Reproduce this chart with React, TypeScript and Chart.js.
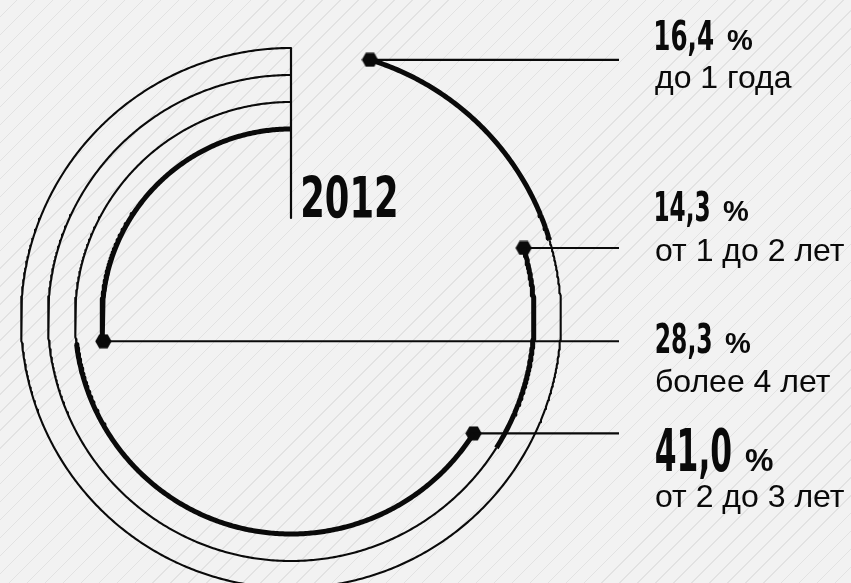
import React, { useEffect, useRef } from 'react';
import { Chart, registerables } from 'chart.js';

Chart.register(...registerables);

// ---------- DATA ----------
// Categories in the order they run around the circle (counter-clockwise from 12 o'clock)
const categories: string[] = ['более 4 лет', 'от 2 до 3 лет', 'от 1 до 2 лет', 'до 1 года'];
const shares: number[] = [28.3, 41.0, 14.3, 16.4];
const yearLabel = '2012';
// order of the label column, top to bottom (indices into categories)
const labelOrder: number[] = [3, 2, 0, 1];

// ---------- LAYOUT ----------
const W = 851;
const H = 583;
const CX = 291; // pixel position of the circle centre
const CY = 318;
const R0 = 189; // innermost ring radius (px)
const RSTEP = 27; // distance between rings
const SWEEP = 343; // degrees used by 100 %
const LINE_END_X = 619; // pixel x where connector lines stop
const STEM_BOTTOM_Y = 218; // pixel y where the vertical stem stops
const LABEL_X = 656;
const NUM_BASE = [50, 221, 353, 471];
const NUM_INK_W = [57, 53, 55, 75];
const DESC_BASE = [88, 261, 392, 507];
const PCT_GAP = 14;
const YEAR_X = 303;
const YEAR_BASE = 218;
const YEAR_INK_W = 93;

const THIN = 2.1;
const THICK = 5;
const INK = '#0a0a0a';

const NUM_FAMILY = "'DejaVu Sans Condensed', 'DejaVu Sans', sans-serif";
const TXT_FAMILY = "'Liberation Sans', Arial, sans-serif";

function arcPoints(r: number, a0: number, a1: number) {
  const pts: { x: number; y: number }[] = [];
  const n = Math.max(2, Math.ceil(Math.abs(a1 - a0) / 0.5));
  for (let i = 0; i <= n; i++) {
    const a = ((a0 + ((a1 - a0) * i) / n) * Math.PI) / 180;
    pts.push({ x: -r * Math.sin(a), y: r * Math.cos(a) });
  }
  return pts;
}

function makeHex(): HTMLCanvasElement {
  const c = document.createElement('canvas');
  c.width = 17;
  c.height = 15;
  const g = c.getContext('2d')!;
  g.fillStyle = INK;
  g.beginPath();
  g.moveTo(0.3, 7.5);
  g.lineTo(4.3, 0.6);
  g.lineTo(12.7, 0.6);
  g.lineTo(16.7, 7.5);
  g.lineTo(12.7, 14.4);
  g.lineTo(4.3, 14.4);
  g.closePath();
  g.fill();
  return c;
}

function drawFitted(ctx: CanvasRenderingContext2D, txt: string, font: string, x: number, base: number, inkW: number) {
  ctx.font = font;
  const m = ctx.measureText(txt);
  const ink = m.actualBoundingBoxLeft + m.actualBoundingBoxRight;
  const s = inkW / ink;
  ctx.save();
  ctx.translate(x, base);
  ctx.scale(s, 1);
  ctx.fillText(txt, m.actualBoundingBoxLeft, 0);
  ctx.restore();
  return x + inkW;
}

const labelPlugin = {
  id: 'labelPlugin',
  afterDraw(chart: any) {
    const ctx: CanvasRenderingContext2D = chart.ctx;
    ctx.save();
    ctx.fillStyle = INK;
    ctx.textBaseline = 'alphabetic';
    ctx.textAlign = 'left';
    drawFitted(ctx, yearLabel, `bold 57px ${NUM_FAMILY}`, YEAR_X, YEAR_BASE, YEAR_INK_W);
    const maxShare = Math.max(...shares);
    labelOrder.forEach((ci, row) => {
      const big = shares[ci] === maxShare;
      const num = shares[ci].toFixed(1).replace('.', ',');
      const right = drawFitted(ctx, num, `bold ${big ? 59 : 41}px ${NUM_FAMILY}`, LABEL_X, NUM_BASE[row], NUM_INK_W[row]);
      ctx.font = `bold ${big ? 32 : 29}px ${TXT_FAMILY}`;
      const pm = ctx.measureText('%');
      ctx.fillText('%', right + PCT_GAP + pm.actualBoundingBoxLeft, NUM_BASE[row]);
      ctx.font = `32px ${TXT_FAMILY}`;
      ctx.fillText(categories[ci], LABEL_X - 1, DESC_BASE[row]);
    });
    ctx.restore();
  },
};

export default function App() {
  const ref = useRef<HTMLCanvasElement>(null);

  useEffect(() => {
    if (!ref.current) return;
    const hex = makeHex();
    const datasets: any[] = [];
    const total = shares.reduce((a, b) => a + b, 0);
    let cum = 0;
    const markers: { x: number; y: number }[] = [];
    const lineEnd = LINE_END_X - CX;
    shares.forEach((v, i) => {
      const r = R0 + i * RSTEP;
      const a0 = (cum / total) * SWEEP;
      cum += v;
      const a1 = (cum / total) * SWEEP;
      if (a0 > 0) {
        datasets.push({
          label: categories[i] + ' track',
          data: arcPoints(r, 0, a0),
          showLine: true,
          borderColor: INK,
          borderWidth: THIN,
          pointRadius: 0,
        });
      }
      const thick = arcPoints(r, a0, a1);
      datasets.push({
        label: categories[i],
        data: thick,
        showLine: true,
        borderColor: INK,
        borderWidth: THICK,
        pointRadius: 0,
      });
      const end = thick[thick.length - 1];
      markers.push(end);
      datasets.push({
        label: categories[i] + ' connector',
        data: [end, { x: lineEnd, y: end.y }],
        showLine: true,
        borderColor: INK,
        borderWidth: 2.2,
        pointRadius: 0,
      });
    });
    const outerR = R0 + (shares.length - 1) * RSTEP;
    datasets.push({
      label: 'stem',
      data: [
        { x: 0, y: outerR },
        { x: 0, y: CY - STEM_BOTTOM_Y },
      ],
      showLine: true,
      borderColor: INK,
      borderWidth: 2.2,
      pointRadius: 0,
    });
    datasets.push({
      label: 'markers',
      data: markers,
      showLine: false,
      pointStyle: hex,
      pointRadius: 8,
      backgroundColor: INK,
      borderColor: INK,
    });

    const chart = new Chart(ref.current, {
      type: 'scatter',
      data: { datasets },
      options: {
        responsive: false,
        animation: false,
        devicePixelRatio: 1,
        layout: { padding: 0, autoPadding: false },
        plugins: { legend: { display: false }, tooltip: { enabled: false } },
        elements: { line: { tension: 0, borderCapStyle: 'butt', borderJoinStyle: 'round' } },
        scales: {
          x: { type: 'linear', display: false, min: -CX, max: W - CX },
          y: { type: 'linear', display: false, min: -(H - CY), max: CY },
        },
      },
      plugins: [labelPlugin],
    } as any);
    return () => chart.destroy();
  }, []);

  return (
    <div
      style={{
        position: 'fixed',
        left: 0,
        top: 0,
        width: '100vw',
        height: '100vh',
        overflow: 'hidden',
        background:
          'repeating-linear-gradient(135deg, #f2f2f2 0px, #f2f2f2 11.7px, #e2e2e2 11.7px, #e2e2e2 12.7px)',
      }}
    >
      <canvas ref={ref} width={W} height={H} style={{ display: 'block', width: W, height: H }} />
    </div>
  );
}
